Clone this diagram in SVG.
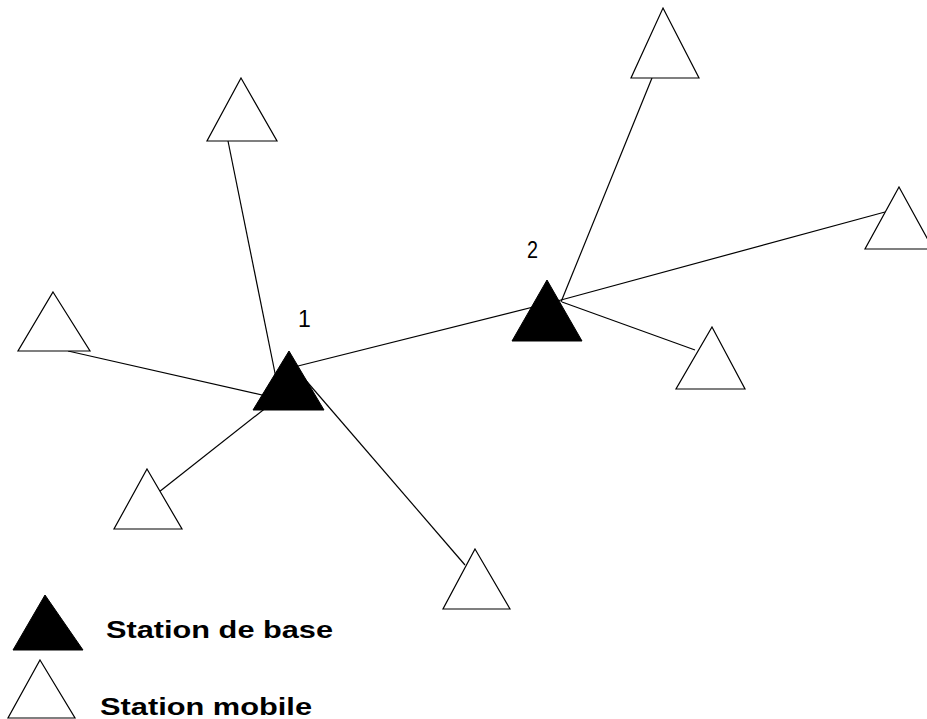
<svg xmlns="http://www.w3.org/2000/svg" width="927" height="719" viewBox="0 0 927 719">
<style>
.c line{stroke:#000;stroke-width:1.2;fill:none}
.m{fill:#fff;stroke:#000;stroke-width:1.2}
.b{fill:#000;stroke:#000;stroke-width:1}
.n{font-family:"Liberation Sans",Arial,sans-serif;font-size:23px;fill:#000}
.lg{font-family:"Liberation Sans",Arial,sans-serif;font-size:23px;font-weight:bold;fill:#000}
</style>
<rect width="927" height="719" fill="#fff"/>
<g id="connectors" class="c">
<line x1="228" y1="141" x2="276" y2="378"/>
<line x1="652" y1="78" x2="561" y2="302"/>
<line x1="885" y1="212" x2="561" y2="300"/>
<line x1="695" y1="350" x2="562" y2="302"/>
<line x1="68" y1="351" x2="275" y2="398"/>
<line x1="159" y1="492" x2="272" y2="403"/>
<line x1="465" y1="565" x2="290" y2="362"/>
<line x1="290" y1="368" x2="561" y2="300"/>
</g>
<g id="mobile1"><polygon class="m" points="241,78 277,141 207,141"/></g>
<g id="mobile2"><polygon class="m" points="663,8 699,78 631,78"/></g>
<g id="mobile3"><polygon class="m" points="899,187 933,249 865,249"/></g>
<g id="mobile4"><polygon class="m" points="712,327 745,389 676,389"/></g>
<g id="mobile5"><polygon class="m" points="53,292 90,351 18,351"/></g>
<g id="mobile6"><polygon class="m" points="147,469 182,529 114,529"/></g>
<g id="mobile7"><polygon class="m" points="475,549 510,609 443,609"/></g>
<g id="base1"><polygon class="b" points="289,351 324,410 253,410"/><text class="n" x="298" y="327">1</text></g>
<g id="base2"><polygon class="b" points="547,280 582,341 512,341"/><text class="n" x="527" y="258" textLength="11" lengthAdjust="spacingAndGlyphs">2</text></g>
<g id="legend-base"><polygon class="b" points="45,595 83,650 13,650"/><text class="lg" x="106" y="638" textLength="227" lengthAdjust="spacingAndGlyphs">Station de base</text></g>
<g id="legend-mobile"><polygon class="m" points="40,660 75,718 8,718"/><text class="lg" x="100" y="715" textLength="212" lengthAdjust="spacingAndGlyphs">Station mobile</text></g>
</svg>
